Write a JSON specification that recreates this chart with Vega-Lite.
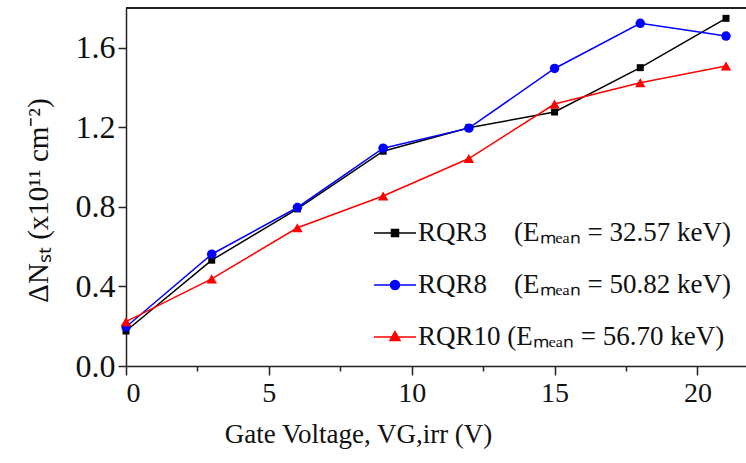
{
  "$schema": "https://vega.github.io/schema/vega-lite/v6.json",
  "width": 620,
  "height": 358,
  "autosize": {"type": "none"},
  "padding": {"left": 126, "top": 8, "right": 0, "bottom": 97},
  "background": "white",
  "config": {
    "view": {"stroke": null},
    "font": "Liberation Serif",
    "legend": {"labelFont": "Liberation Serif", "titleFont": "Liberation Serif"},
    "axis": {
      "domainColor": "#222222",
      "domainWidth": 1.5,
      "tickColor": "#222222",
      "tickWidth": 1.5,
      "labelColor": "#111111",
      "titleColor": "#111111",
      "labelFont": "Liberation Serif",
      "titleFont": "Liberation Serif",
      "titleFontWeight": "normal",
      "grid": false
    }
  },
  "data": {
    "values": [
      {"series": "RQR3", "v": 0, "n": 0.176},
      {"series": "RQR3", "v": 3, "n": 0.532},
      {"series": "RQR3", "v": 6, "n": 0.79},
      {"series": "RQR3", "v": 9, "n": 1.08},
      {"series": "RQR3", "v": 12, "n": 1.198},
      {"series": "RQR3", "v": 15, "n": 1.277},
      {"series": "RQR3", "v": 18, "n": 1.5},
      {"series": "RQR3", "v": 21, "n": 1.748},
      {"series": "RQR8", "v": 0, "n": 0.196},
      {"series": "RQR8", "v": 3, "n": 0.562},
      {"series": "RQR8", "v": 6, "n": 0.797},
      {"series": "RQR8", "v": 9, "n": 1.095},
      {"series": "RQR8", "v": 12, "n": 1.196},
      {"series": "RQR8", "v": 15, "n": 1.496},
      {"series": "RQR8", "v": 18, "n": 1.723},
      {"series": "RQR8", "v": 21, "n": 1.659},
      {"series": "RQR10", "v": 0, "n": 0.223},
      {"series": "RQR10", "v": 3, "n": 0.438},
      {"series": "RQR10", "v": 6, "n": 0.695},
      {"series": "RQR10", "v": 9, "n": 0.855},
      {"series": "RQR10", "v": 12, "n": 1.043},
      {"series": "RQR10", "v": 15, "n": 1.317},
      {"series": "RQR10", "v": 18, "n": 1.424},
      {"series": "RQR10", "v": 21, "n": 1.508}
    ]
  },
  "layer": [
    {
      "mark": {"type": "line", "strokeWidth": 1.5},
      "encoding": {
        "x": {
          "field": "v", "type": "quantitative",
          "scale": {"domain": [0, 21.7], "nice": false, "zero": false},
          "axis": {
            "values": [0, 2.5, 5, 7.5, 10, 12.5, 15, 17.5, 20],
            "labelExpr": "datum.value % 5 == 0 ? format(datum.value, 'd') : ''",
            "tickSize": {"condition": {"test": "datum.value % 5 == 0", "value": 9}, "value": 5},
            "labelFontSize": 28,
            "labelPadding": 4,
            "title": "Gate Voltage, VG,irr  (V)",
            "titleFontSize": 27,
            "titleX": 232,
            "titleY": 76,
            "titleBaseline": "alphabetic"
          }
        },
        "y": {
          "field": "n", "type": "quantitative",
          "scale": {"domain": [0, 1.8], "nice": false},
          "axis": {
            "values": [0, 0.2, 0.4, 0.6, 0.8, 1.0, 1.2, 1.4, 1.6, 1.8],
            "labelExpr": "round(datum.value * 10) % 4 == 0 ? format(datum.value, '.1f') : ''",
            "tickSize": {"condition": {"test": "round(datum.value * 10) % 4 == 0", "value": 8}, "value": 5},
            "labelFontSize": 32,
            "labelPadding": 3,
            "title": "ΔNₛₜ  (x10¹¹ cm⁻²)",
            "titleFontSize": 29,
            "titleX": -79,
            "titleY": 192,
            "titleBaseline": "alphabetic"
          }
        },
        "color": {
          "field": "series", "type": "nominal",
          "scale": {"domain": ["RQR3", "RQR8", "RQR10"], "range": ["#000000", "#0000ff", "#ff0000"]},
          "legend": {
            "orient": "none", "legendX": 247, "legendY": 203, "title": null, "padding": 0,
            "symbolSize": 1764, "symbolStrokeWidth": 1.5, "rowPadding": 17, "labelOffset": 1,
            "labelFontSize": 27, "labelFont": "Liberation Serif", "labelColor": "#111111", "labelLimit": 0,
            "labelExpr": "datum.value === 'RQR3' ? 'RQR3\u00a0\u00a0\u00a0\u00a0(Eₘₑₐₙ = 32.57 keV)' : datum.value === 'RQR8' ? 'RQR8\u00a0\u00a0\u00a0\u00a0(Eₘₑₐₙ = 50.82 keV)' : 'RQR10\u00a0(Eₘₑₐₙ = 56.70 keV)'",
            "encode": {
              "labels": {
                "update": {
                  "font": {"value": "Liberation Serif"}
                }
              },
              "symbols": {
                "update": {
                  "shape": {"signal": "datum.value === 'RQR3' ? 'M-1,0H1M-0.167,-0.167H0.167V0.167H-0.167Z' : datum.value === 'RQR8' ? 'M-1,0H1M-0.214,0A0.214,0.214,0,1,0,0.214,0A0.214,0.214,0,1,0,-0.214,0Z' : 'M-1,0H1M0,-0.26L0.24,0.17L-0.24,0.17Z'"},
                  "fill": {"signal": "datum.value === 'RQR3' ? '#000000' : datum.value === 'RQR8' ? '#0000ff' : '#ff0000'"},
                  "stroke": {"signal": "datum.value === 'RQR3' ? '#000000' : datum.value === 'RQR8' ? '#0000ff' : '#ff0000'"},
                  "strokeWidth": {"value": 1.5},
                  "opacity": {"value": 1},
                  "fillOpacity": {"value": 1},
                  "strokeOpacity": {"value": 1}
                }
              }
            }
          }
        }
      }
    },
    {
      "transform": [{"filter": "datum.series === 'RQR3'"}],
      "mark": {"type": "point", "filled": true, "opacity": 1, "shape": "square", "size": 49},
      "encoding": {
        "x": {"field": "v", "type": "quantitative"},
        "y": {"field": "n", "type": "quantitative"},
        "color": {"field": "series", "type": "nominal", "legend": null}
      }
    },
    {
      "transform": [{"filter": "datum.series === 'RQR8'"}],
      "mark": {"type": "point", "filled": true, "opacity": 1, "shape": "circle", "size": 90},
      "encoding": {
        "x": {"field": "v", "type": "quantitative"},
        "y": {"field": "n", "type": "quantitative"},
        "color": {"field": "series", "type": "nominal", "legend": null}
      }
    },
    {
      "transform": [{"filter": "datum.series === 'RQR10'"}],
      "mark": {"type": "point", "filled": true, "opacity": 1, "shape": "triangle-up", "size": 110},
      "encoding": {
        "x": {"field": "v", "type": "quantitative"},
        "y": {"field": "n", "type": "quantitative"},
        "color": {"field": "series", "type": "nominal", "legend": null}
      }
    },
    {
      "mark": {"type": "rule", "color": "#222222", "strokeWidth": 1.5},
      "encoding": {"y": {"datum": 1.8, "type": "quantitative"}}
    }
  ]
}
